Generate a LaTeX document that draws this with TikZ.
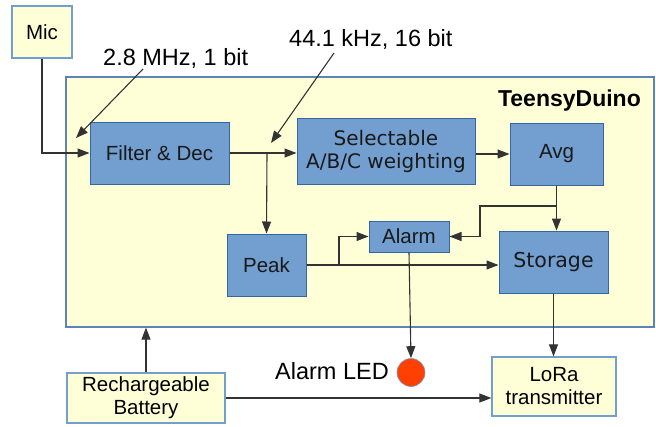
\documentclass[tikz,border=0pt]{standalone}
\usepackage{fontspec}
\setmainfont{Liberation Sans}
\newfontfamily\dejavu{DejaVu Sans}
\usetikzlibrary{arrows.meta}
\definecolor{yfill}{HTML}{FFFFD7}
\definecolor{yborder}{HTML}{729FCF}
\definecolor{bfill}{HTML}{729FCF}
\definecolor{bborder}{HTML}{3465A4}
\definecolor{ledred}{HTML}{FF4000}
\tikzset{
  ybox/.style={draw=yborder, fill=yfill, line width=1.2pt, inner sep=0pt, align=center,
    font=\fontsize{20.5}{23}\selectfont},
  bbox/.style={draw=bborder, fill=bfill, line width=1pt, inner sep=0pt, align=center,
    font=\fontsize{20.5}{23}\selectfont, text=black!90},
  lbl/.style={inner sep=0pt, font=\fontsize{23.5}{26}\selectfont},
  conn/.style={draw=black!80, line width=1.1pt, -{Triangle[length=12pt,width=9pt]}},
  plain/.style={draw=black!80, line width=1.1pt},
}
\begin{document}
\begin{tikzpicture}[x=1pt,y=-1pt]
\useasboundingbox (0,0) rectangle (656,426);
% container
\node[draw=bborder!80, fill=yfill, line width=1.2pt, minimum width=588pt, minimum height=250pt, inner sep=0pt] (teensy) at (360,202) {};
\node[inner sep=0pt, anchor=base east, font=\fontsize{23}{25}\selectfont\bfseries] (tlabel) at (641,106) {TeensyDuino};
% boxes
\node[ybox, minimum width=60pt, minimum height=52pt] (mic) at (42,32) {Mic};
\node[bbox, minimum width=139pt, minimum height=62pt] (filter) at (159.5,153) {Filter \& Dec};
\node[bbox, minimum width=178pt, minimum height=66pt, font=\dejavu\fontsize{20}{23}\selectfont] (sel) at (386,151) {Selectable\\A/B/C weighting};
\node[bbox, minimum width=93pt, minimum height=62pt] (avg) at (556.5,154) {Avg};
\node[bbox, minimum width=79pt, minimum height=62pt] (peak) at (266.5,265) {Peak};
\node[bbox, minimum width=80pt, minimum height=31pt] (alarm) at (409,236.5) {Alarm};
\node[bbox, minimum width=109pt, minimum height=62pt, font=\dejavu\fontsize{20.5}{23}\selectfont] (storage) at (553.5,262) {Storage};
\node[circle, draw=yborder, fill=ledred, line width=0.6pt, minimum size=28pt, inner sep=0pt] (led) at (411,372.5) {};
\node[ybox, minimum width=158pt, minimum height=50pt] (battery) at (146,398) {Rechargeable\\Battery};
\node[ybox, minimum width=124pt, minimum height=59pt] (lora) at (554,386.5) {LoRa\\transmitter};
% labels
\node[lbl, anchor=base west] (l1) at (103,65) {2.8 MHz, 1 bit};
\node[lbl, anchor=base west] (l2) at (289,46) {44.1 kHz, 16 bit};
\node[lbl, anchor=base west] (l3) at (275,379) {Alarm LED};
% helper coordinates
\coordinate (a1s) at (143,69);
\coordinate (a1e) at (76,138);
\coordinate (a2s) at (334,53);
\coordinate (a2e) at (271,143);
\coordinate (br1) at (267,153);
\coordinate (br2) at (556.5,206);
\coordinate (k2) at (480,236.5);
\coordinate (br3) at (339,265);
% connectors
\draw[conn] (mic.south) |- (filter.west);
\draw[conn] (a1s) -- (a1e);
\draw[conn] (a2s) -- (a2e);
\draw[conn] (filter.east) -- (filter.east -| sel.west);
\draw[conn] (br1) -- (peak.north);
\draw[conn] (avg.west -| sel.east) -- (avg.west);
\draw[conn] (avg.south) -- (avg.south |- storage.north);
\draw[plain] (br2) -| (k2);
\draw[conn] (k2) -- (alarm.east);
\draw[conn] (peak.east) -- (peak.east -| storage.west);
\draw[conn] (br3) |- (alarm.west);
\draw[conn] (alarm.south) -- (led.north);
\draw[conn] (storage.south) -- (storage.south |- lora.north);
\draw[conn] (battery.north) -- (battery.north |- teensy.south);
\draw[conn] (battery.east) -- (battery.east -| lora.west);
\end{tikzpicture}
\end{document}
